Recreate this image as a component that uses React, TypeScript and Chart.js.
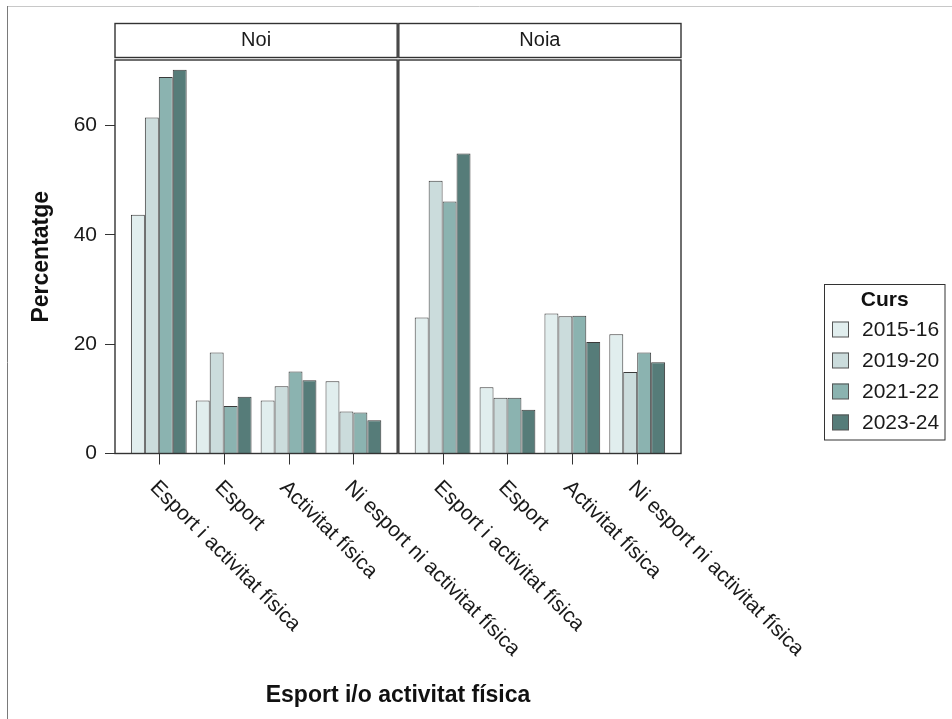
import React, { useEffect, useRef } from 'react';
import { Chart, registerables } from 'chart.js';

Chart.register(...registerables);

// ---- Data ----
const panels = ['Noi', 'Noia'];
const categories = [
  'Esport i activitat física',
  'Esport',
  'Activitat física',
  'Ni esport ni activitat física',
];
const years = ['2015-16', '2019-20', '2021-22', '2023-24'];

// Noi (boys): one array per course, values per category
const noi2015 = [43.7, 9.7, 9.7, 13.2];
const noi2019 = [61.5, 18.5, 12.3, 7.7];
const noi2021 = [68.9, 8.7, 15.0, 7.5];
const noi2023 = [70.2, 10.4, 13.4, 6.1];

// Noia (girls)
const noia2015 = [24.9, 12.1, 25.6, 21.8];
const noia2019 = [49.9, 10.2, 25.1, 14.9];
const noia2021 = [46.1, 10.2, 25.2, 18.5];
const noia2023 = [54.9, 8.0, 20.4, 16.7];

const yTicks = [0, 20, 40, 60];
const yMax = 72;

const yTitle = 'Percentatge';
const xTitle = 'Esport i/o activitat física';
const legendTitle = 'Curs';

// ---- Styles ----
const yearColors = ['#e1eeee', '#cbdcdc', '#8bb3b0', '#567c79'];
const FONT = '"Liberation Sans", Arial, Helvetica, sans-serif';
const TEXT = '#1a1a1a';
const LINE = '#333333';
const LABEL_SIZE = 21;
const TITLE_SIZE = 23;

const EXPAND = 0.675;
const GAP = 0.025;
const PANEL_STEP = categories.length - 1 + 2 * EXPAND + GAP;
const catPos = (p: number, k: number) => p * PANEL_STEP + k;

const seriesByPanel = [
  [noi2015, noi2019, noi2021, noi2023],
  [noia2015, noia2019, noia2021, noia2023],
];

const facetPlugin = {
  id: 'facetDecor',
  afterDraw(chart: any) {
    const { ctx, chartArea } = chart;
    const x = chart.scales.x;
    const { top, bottom } = chartArea;
    ctx.save();

    // outer frame
    ctx.lineWidth = 1;
    ctx.strokeStyle = '#c8c8c8';
    ctx.beginPath();
    ctx.moveTo(7, 6.5);
    ctx.lineTo(952, 6.5);
    ctx.stroke();
    ctx.strokeStyle = '#7a7a7a';
    ctx.beginPath();
    ctx.moveTo(7.5, 6);
    ctx.lineTo(7.5, 719);
    ctx.stroke();

    panels.forEach((name, p) => {
      const left = x.getPixelForValue(p * PANEL_STEP - EXPAND);
      const right = x.getPixelForValue(p * PANEL_STEP + categories.length - 1 + EXPAND);

      // panel border
      ctx.strokeStyle = LINE;
      ctx.lineWidth = 1.4;
      ctx.strokeRect(left, top, right - left, bottom - top);

      // strip
      ctx.fillStyle = '#ffffff';
      ctx.fillRect(left, 23.5, right - left, 34);
      ctx.strokeRect(left, 23.5, right - left, 34);
      ctx.fillStyle = TEXT;
      ctx.font = `20px ${FONT}`;
      ctx.textAlign = 'center';
      ctx.textBaseline = 'middle';
      ctx.fillText(name, (left + right) / 2, 40);

      // ticks and rotated labels
      categories.forEach((c, k) => {
        const px = x.getPixelForValue(catPos(p, k));
        ctx.strokeStyle = LINE;
        ctx.lineWidth = 1;
        ctx.beginPath();
        ctx.moveTo(Math.round(px) + 0.5, bottom);
        ctx.lineTo(Math.round(px) + 0.5, bottom + 11);
        ctx.stroke();

        ctx.save();
        ctx.translate(px - 9.6, bottom + 35);
        ctx.rotate(Math.PI / 4);
        ctx.fillStyle = TEXT;
        ctx.font = `${LABEL_SIZE}px ${FONT}`;
        ctx.textAlign = 'left';
        ctx.textBaseline = 'alphabetic';
        ctx.fillText(c, 0, 0);
        ctx.restore();
      });
    });

    // x title
    ctx.fillStyle = '#111';
    ctx.font = `bold ${TITLE_SIZE}px ${FONT}`;
    ctx.textAlign = 'center';
    ctx.textBaseline = 'alphabetic';
    ctx.fillText(xTitle, (chartArea.left + chartArea.right) / 2, 702);

    // legend
    const lx = 824.5, ly = 284.5, lw = 120.5, lh = 155.5;
    ctx.fillStyle = '#fff';
    ctx.fillRect(lx, ly, lw, lh);
    ctx.strokeStyle = LINE;
    ctx.lineWidth = 1;
    ctx.strokeRect(lx, ly, lw, lh);
    ctx.fillStyle = '#111';
    ctx.font = `bold 21px ${FONT}`;
    ctx.textAlign = 'center';
    ctx.fillText(legendTitle, lx + lw / 2, 306);
    years.forEach((yr, i) => {
      const ky = 321.5 + i * 31;
      ctx.fillStyle = yearColors[i];
      ctx.fillRect(832, ky, 17, 15.5);
      ctx.strokeStyle = '#555';
      ctx.lineWidth = 1;
      ctx.strokeRect(832.5, ky + 0.5, 16, 15);
      ctx.fillStyle = TEXT;
      ctx.font = `${LABEL_SIZE}px ${FONT}`;
      ctx.textAlign = 'left';
      ctx.textBaseline = 'middle';
      ctx.fillText(yr, 862, ky + 8.5);
      ctx.textBaseline = 'alphabetic';
    });

    ctx.restore();
  },
};

export default function App() {
  const ref = useRef<HTMLCanvasElement>(null);

  useEffect(() => {
    if (!ref.current) return;
    const datasets = years.map((yr, i) => ({
      label: yr,
      data: panels.flatMap((_, p) =>
        seriesByPanel[p][i].map((v, k) => ({ x: catPos(p, k), y: v }))
      ),
      backgroundColor: yearColors[i],
      borderColor: '#3a3a3a',
      borderWidth: 1,
      categoryPercentage: 0.86,
      barPercentage: 1,
    }));

    const chart = new Chart(ref.current, {
      type: 'bar',
      data: { datasets },
      options: {
        animation: false,
        responsive: false,
        devicePixelRatio: 1,
        layout: { padding: { left: 0, top: 60, right: 271, bottom: 265.5 } },
        plugins: {
          legend: { display: false },
          tooltip: { enabled: false },
        },
        scales: {
          x: {
            type: 'linear',
            display: false,
            offset: false,
            grid: { offset: false },
            min: -EXPAND,
            max: PANEL_STEP + categories.length - 1 + EXPAND,
            afterBuildTicks: (s: any) => {
              s.ticks = panels.flatMap((_, p) =>
                categories.map((__, k) => ({ value: catPos(p, k) }))
              );
            },
          },
          y: {
            min: 0,
            max: yMax,
            afterBuildTicks: (s: any) => {
              s.ticks = yTicks.map((v) => ({ value: v }));
            },
            afterFit: (s: any) => {
              s.width = 115;
            },
            grid: {
              drawOnChartArea: false,
              drawTicks: true,
              tickLength: 10,
              color: LINE,
              lineWidth: 1,
            },
            border: { display: false },
            ticks: {
              padding: 8,
              color: TEXT,
              font: { family: FONT, size: LABEL_SIZE },
            },
            title: {
              display: true,
              text: yTitle,
              color: '#111',
              font: { family: FONT, size: TITLE_SIZE, weight: 'bold' },
              padding: { top: 28, bottom: 0 },
            },
          },
        },
      },
      plugins: [facetPlugin],
    });
    return () => chart.destroy();
  }, []);

  return (
    <div
      style={{
        position: 'absolute',
        left: 0,
        top: 0,
        width: 952,
        height: 719,
        background: '#ffffff',
      }}
    >
      <canvas
        ref={ref}
        width={952}
        height={719}
        style={{ display: 'block', width: 952, height: 719 }}
      />
    </div>
  );
}
